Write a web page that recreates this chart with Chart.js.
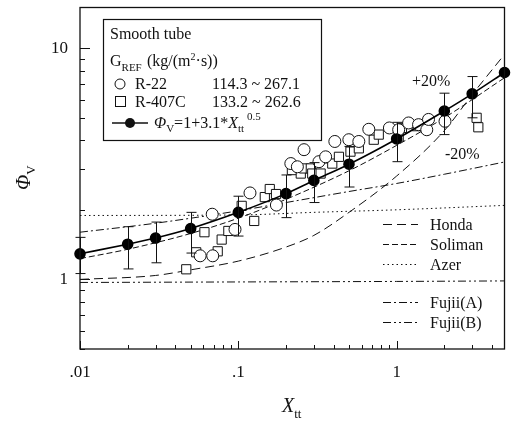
<!DOCTYPE html>
<html><head><meta charset="utf-8">
<script src="https://cdn.jsdelivr.net/npm/chart.js@4.4.1/dist/chart.umd.min.js"></script>
<style>html,body{margin:0;padding:0;background:#fff;}</style>
</head><body>
<canvas id="c" width="512" height="428"></canvas>
<script>
// ---- data ----
const xttMean = [0.01,0.02,0.03,0.05,0.1,0.2,0.3,0.5,1,2,3,4.8];
const phiMean = [1.29,1.42,1.51,1.66,1.95,2.35,2.68,3.15,4.05,5.35,6.35,7.85];
const errHigh = [1.52,1.69,1.77,1.95,2.29,2.83,3.2,3.76,4.78,6.39,7.54,null];
const errLow  = [1.06,1.11,1.18,1.30,1.54,1.85,2.15,2.51,3.23,4.23,5.0,null];

const r22X = [0.0574,0.0689,0.0684,0.0953,0.1185,0.174,0.2146,0.236,0.26,0.323,0.356,0.407,0.499,0.577,0.667,0.9,1.03,1.19,1.375,1.55,1.59,2.02];
const r22Y = [1.265,1.265,1.914,1.645,2.366,2.097,3.17,3.07,3.64,3.23,3.39,3.95,4.02,3.95,4.46,4.52,4.44,4.75,4.67,4.44,4.92,4.83];

const r407X = [0.0469,0.0542,0.0611,0.0741,0.0785,0.0865,0.105,0.126,0.147,0.158,0.173,0.218,0.248,0.26,0.287,0.293,0.331,0.356,0.392,0.432,0.511,0.577,0.717,0.771,1.03,1.08,1.34,3.2,3.28];
const r407Y = [1.106,1.31,1.60,1.323,1.487,1.62,2.08,1.79,2.27,2.46,2.34,2.97,2.87,3.02,3.02,2.87,2.87,3.34,3.17,3.39,3.57,3.69,4.02,4.23,4.15,4.52,4.60,5.0,4.55];

const hondaX = [0.01,0.03,0.05,0.1,0.2,0.3,0.5,1,2,3,4.8];
const hondaY = [1.0,1.04,1.1,1.2,1.38,1.55,1.95,2.8,4.4,6.3,9.4];
const solimanX = [0.01,0.02,0.05,0.1,0.2,0.5,1,2,4.8];
const solimanY = [1.23,1.35,1.58,1.84,2.22,2.95,3.8,5.0,7.45];
const azerX = [0.01,0.1,0.3,1,4.8];
const azerY = [1.89,1.9,1.95,2.0,2.09];
const fujiiAX = [0.01,0.03,0.1,0.2,0.5,1,2,4.8];
const fujiiAY = [1.60,1.75,1.98,2.15,2.4,2.6,2.85,3.22];
const fujiiBX = [0.01,0.1,1,4.8];
const fujiiBY = [0.97,0.975,0.98,0.985];

const xLabelVals = [0.01,0.1,1];
const xLabelText = ['.01','.1','1'];
const yLabelVals = [1,10];
const yLabelText = ['1','10'];
const xMinorTicks = [0.01,0.02,0.03,0.04,0.05,0.06,0.07,0.08,0.09,0.1,0.2,0.3,0.4,0.5,0.6,0.7,0.8,0.9,1,2,3,4];
const yMinorTicks = [0.5,0.6,0.7,0.8,0.9,1,2,3,4,5,6,7,8,9,10];

const legendNames = ['Honda','Soliman','Azer','Fujii(A)','Fujii(B)'];
// ------------------------------------

const SERIF = '"Liberation Serif","Times New Roman",serif';
const pts = (xs, ys) => xs.map((x,i)=>({x:x, y:ys[i]}));
const dashes = {Honda:[9,5], Soliman:[6,3], Azer:[1.5,3], 'Fujii(A)':[8,3,2,3], 'Fujii(B)':[8,3,2,3,2,3]};

function curve(label, xs, ys){
  return {label, data: pts(xs,ys), showLine:true, pointRadius:0, borderColor:'#111', borderWidth:1,
    borderDash: dashes[label], cubicInterpolationMode:'monotone', order:10};
}

function txt(ctx, s, x, y, size, italic){
  ctx.font = (italic?'italic ':'') + size + 'px ' + SERIF;
  ctx.fillText(s, x, y);
  return x + ctx.measureText(s).width;
}

const decor = {
  id:'decor',
  afterDatasetsDraw(chart){
    const ctx = chart.ctx, xs = chart.scales.x, ys = chart.scales.y, a = chart.chartArea;
    ctx.save();
    // error bars
    ctx.strokeStyle = '#111'; ctx.lineWidth = 1;
    xttMean.forEach((xv,i)=>{
      if (errHigh[i]==null) return;
      const px = Math.round(xs.getPixelForValue(xv))+0.5;
      const yh = ys.getPixelForValue(errHigh[i]), yl = ys.getPixelForValue(errLow[i]);
      ctx.beginPath();
      ctx.moveTo(px, yh); ctx.lineTo(px, yl);
      ctx.moveTo(px-5, yh); ctx.lineTo(px+5, yh);
      ctx.moveTo(px-5, yl); ctx.lineTo(px+5, yl);
      ctx.stroke();
    });
    // frame
    ctx.lineWidth = 1.3; ctx.strokeStyle = '#111';
    ctx.strokeRect(a.left, a.top, a.right-a.left, a.bottom-a.top);
    // inward ticks
    ctx.lineWidth = 1;
    ctx.beginPath();
    xMinorTicks.forEach(v=>{
      const px = Math.round(xs.getPixelForValue(v))+0.5;
      const len = xLabelVals.some(t=>Math.abs(t-v)<1e-9) ? 8 : 4;
      ctx.moveTo(px, a.bottom); ctx.lineTo(px, a.bottom-len);
    });
    yMinorTicks.forEach(v=>{
      const py = Math.round(ys.getPixelForValue(v))+0.5;
      const len = yLabelVals.some(t=>Math.abs(t-v)<1e-9) ? 10 : 5;
      ctx.moveTo(a.left, py); ctx.lineTo(a.left+len, py);
    });
    ctx.stroke();

    ctx.fillStyle = '#111';
    // tick labels through the scales
    ctx.font = '17px ' + SERIF;
    ctx.textBaseline = 'middle';
    ctx.textAlign = 'center';
    xLabelVals.forEach((v,i)=> ctx.fillText(xLabelText[i], xs.getPixelForValue(v), a.bottom + 24));
    ctx.textAlign = 'right';
    yLabelVals.forEach((v,i)=> ctx.fillText(yLabelText[i], a.left - 12, ys.getPixelForValue(v)));
    ctx.textAlign = 'left';
    ctx.textBaseline = 'alphabetic';

    // y title (rotated)
    ctx.save();
    ctx.translate(30, 190);
    ctx.rotate(-Math.PI/2);
    let x = txt(ctx, 'Φ', 0, 0, 20, true);
    ctx.translate(0, 5);
    txt(ctx, 'V', x, 0, 13, false);
    ctx.restore();
    // x title
    x = txt(ctx, 'X', 282, 412, 20, true);
    txt(ctx, 'tt', x, 418, 13, false);

    // legend box
    ctx.fillStyle = '#fff';
    ctx.fillRect(103, 19, 218, 121);
    ctx.strokeStyle = '#111'; ctx.lineWidth = 1.2;
    ctx.strokeRect(103.5, 19.5, 218, 121);
    ctx.fillStyle = '#111';
    txt(ctx, 'Smooth tube', 110, 39, 16, false);
    x = txt(ctx, 'G', 110, 66, 16, false);
    txt(ctx, 'REF', x, 71, 11, false);
    x = txt(ctx, '(kg/(m', 147, 66, 16, false);
    x = txt(ctx, '2', x, 60, 10, false);
    txt(ctx, '·s))', x, 66, 16, false);
    ctx.lineWidth = 1;
    ctx.beginPath(); ctx.arc(120, 84, 5, 0, Math.PI*2); ctx.stroke();
    txt(ctx, 'R-22', 135, 89, 16, false);
    txt(ctx, '114.3 ~ 267.1', 212, 89, 16, false);
    ctx.strokeRect(115.5, 96.5, 10, 10);
    txt(ctx, 'R-407C', 135, 107, 16, false);
    txt(ctx, '133.2 ~ 262.6', 212, 107, 16, false);
    ctx.lineWidth = 1.6;
    ctx.beginPath(); ctx.moveTo(112, 123); ctx.lineTo(148, 123); ctx.stroke();
    ctx.beginPath(); ctx.arc(130, 123, 5, 0, Math.PI*2); ctx.fill();
    x = txt(ctx, 'Φ', 154, 128, 16, true);
    x = txt(ctx, 'V', x, 132, 11, false);
    x = txt(ctx, '=1+3.1*', x, 128, 16, false);
    x = txt(ctx, 'X', x, 128, 16, true);
    x = txt(ctx, 'tt', x, 132, 11, false);
    txt(ctx, '0.5', x+3, 120, 11, false);

    // right legend of correlations
    const ly = [224, 244, 264, 302, 322];
    legendNames.forEach((n,i)=>{
      ctx.setLineDash(dashes[n]); ctx.lineWidth = 1;
      ctx.beginPath(); ctx.moveTo(383, ly[i]+0.5); ctx.lineTo(418, ly[i]+0.5); ctx.stroke();
      ctx.setLineDash([]);
      txt(ctx, n, 430, ly[i]+6, 16, false);
    });
    txt(ctx, '+20%', 412, 86, 16, false);
    txt(ctx, '-20%', 445, 159, 16, false);
    ctx.restore();
  }
};

new Chart(document.getElementById('c'), {
  type:'scatter',
  data:{ datasets:[
    {label:'corr', data: pts(xttMean, phiMean), showLine:true, borderColor:'#000', borderWidth:1.6,
     pointRadius:5, pointBackgroundColor:'#000', pointBorderColor:'#000', cubicInterpolationMode:'monotone', order:0, clip:false},
    {label:'R-22', data: pts(r22X, r22Y), pointStyle:'circle', pointRadius:6, backgroundColor:'#fff', borderColor:'#111', borderWidth:1, order:2},
    {label:'R-407C', data: pts(r407X, r407Y), pointStyle:'rect', pointRadius:6.5, backgroundColor:'#fff', borderColor:'#111', borderWidth:1, order:3},
    curve('Honda', hondaX, hondaY),
    curve('Soliman', solimanX, solimanY),
    curve('Azer', azerX, azerY),
    curve('Fujii(A)', fujiiAX, fujiiAY),
    curve('Fujii(B)', fujiiBX, fujiiBY)
  ]},
  options:{
    responsive:false, animation:false, events:[],
    layout:{padding:{top:5, right:6, left:0, bottom:0}},
    plugins:{legend:{display:false}, tooltip:{enabled:false}},
    scales:{
      x:{type:'logarithmic', min:0.01, max:4.8,
        grid:{display:false, drawTicks:false}, border:{display:false},
        ticks:{display:false},
        afterFit: s => { s.height = 79; }
      },
      y:{type:'logarithmic', min:0.5, max:15,
        grid:{display:false, drawTicks:false}, border:{display:false},
        ticks:{display:false},
        afterFit: s => { s.width = 80; }
      }
    }
  },
  plugins:[decor]
});
</script>
</body></html>
